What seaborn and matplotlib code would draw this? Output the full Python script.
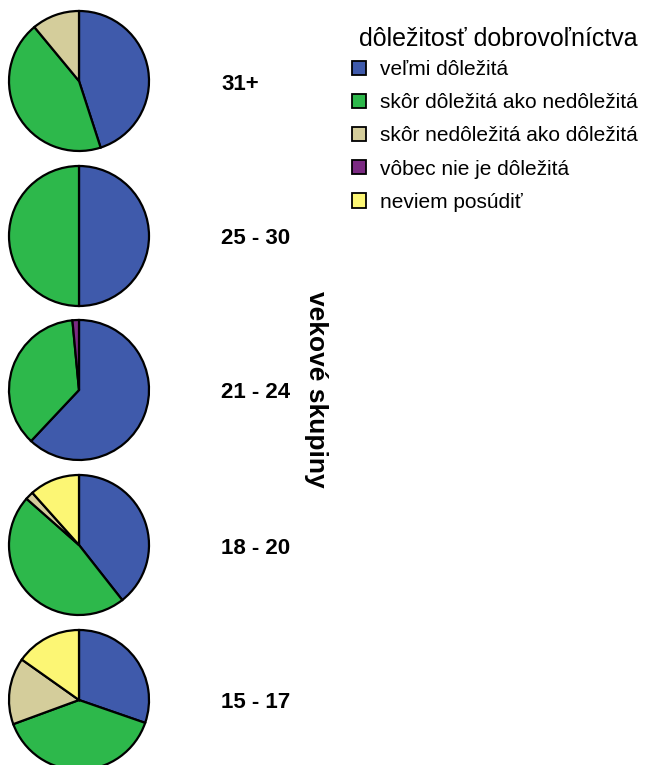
import matplotlib
matplotlib.use("Agg")
import matplotlib.pyplot as plt
import matplotlib.patches as mpatches
import seaborn as sns

# -------------------------
# Data
# -------------------------
age_groups = ["31+", "25 - 30", "21 - 24", "18 - 20", "15 - 17"]
categories = [
    "veľmi dôležitá",
    "skôr dôležitá ako nedôležitá",
    "skôr nedôležitá ako dôležitá",
    "vôbec nie je dôležitá",
    "neviem posúdiť",
]
# shares (%) per age group, in the category order above
share_31 = [45.0, 44.0, 11.0, 0.0, 0.0]
share_25_30 = [50.0, 50.0, 0.0, 0.0, 0.0]
share_21_24 = [62.0, 36.5, 0.0, 1.5, 0.0]
share_18_20 = [39.4, 47.1, 1.9, 0.0, 11.6]
share_15_17 = [30.3, 39.1, 15.4, 0.0, 15.2]
shares = [share_31, share_25_30, share_21_24, share_18_20, share_15_17]

colors = ["#3F5AAB", "#2DB84B", "#D4CD9B", "#7B2A82", "#FCF674"]

# -------------------------
# Figure
# -------------------------
sns.set_style("white")
plt.rcParams["font.family"] = ["Liberation Sans", "DejaVu Sans"]
plt.rcParams["text.color"] = "black"

W, H = 647, 765
fig = plt.figure(figsize=(W / 100, H / 100), dpi=100)

centers_y = [81, 236, 390, 545, 700]
cx, r = 79, 70

for grp, vals, cy in zip(age_groups, shares, centers_y):
    ax = fig.add_axes([(cx - r) / W, 1 - (cy + r) / H, 2 * r / W, 2 * r / H])
    # skip empty slices so no stray edge lines are drawn
    v = [x for x in vals if x > 0]
    c = [col for x, col in zip(vals, colors) if x > 0]
    ax.pie(v, colors=c, startangle=90, counterclock=False,
           wedgeprops=dict(edgecolor="black", linewidth=1.6))
    ax.set_aspect("equal")
    ax.set_xlim(-1.0, 1.0)
    ax.set_ylim(-1.0, 1.0)
    ax.axis("off")
    fig.text(221 / W, 1 - (cy + 3) / H, grp, fontsize=16, fontweight="bold",
             ha="left", va="center")

fig.text(316 / W, 1 - 389 / H, "vekové skupiny", fontsize=19, fontweight="bold",
         rotation=-90, ha="center", va="center")

handles = [mpatches.Patch(facecolor=c, edgecolor="black", linewidth=1.3) for c in colors]
leg = fig.legend(handles, categories, title="dôležitosť dobrovoľníctva",
                 loc="upper left", bbox_to_anchor=(352 / W, 1 - 27 / H),
                 frameon=False, fontsize=15, title_fontsize=18,
                 handlelength=0.68, handleheight=0.68, handletextpad=0.65,
                 labelspacing=0.68, borderaxespad=0, borderpad=0)
leg._legend_box.align = "right"
leg._legend_box.sep = 6.5  # tighter gap between title and entries
for t in leg.get_texts():
    t.set_color("black")
leg.get_title().set_color("black")

fig.savefig("out.png", dpi=100)
